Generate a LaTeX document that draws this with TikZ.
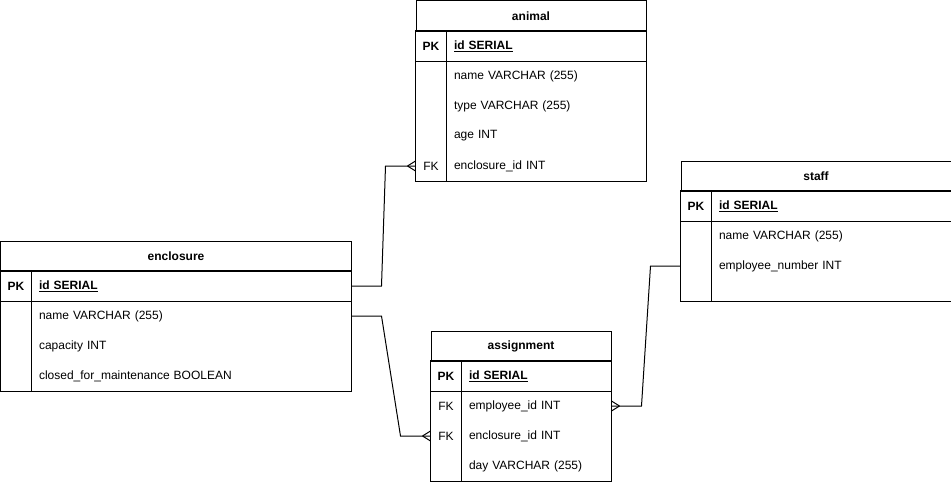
\documentclass[tikz,border=0pt]{standalone}
\usepackage{fontspec}
\setmainfont{Liberation Sans}
\newcommand{\pkfield}[1]{\underline{\textbf{#1}}}
\begin{document}
\begin{tikzpicture}[x=1pt,y=-1pt,line width=1pt,node font=\fontsize{12}{14}\selectfont,
    hdr/.style={draw,anchor=north west,minimum height=30pt,inner sep=0pt,font=\bfseries},
    keycell/.style={anchor=north west,minimum width=30pt,minimum height=30pt,inner sep=0pt},
    fieldcell/.style={anchor=north west,minimum height=30pt,inner xsep=8pt,inner ysep=0pt,align=left}]
    \useasboundingbox (-0.5,-0.5) rectangle (950.5,481.3);
    % animal
    \node[hdr,minimum width=230pt] (animal) at (415,0) {animal};
    \foreach \i/\k/\f in {1/\textbf{PK}/\pkfield{id SERIAL},2//name VARCHAR (255),3//type VARCHAR (255),4//age INT,5/FK/enclosure\_id INT} {
        \node[keycell] (animal-k\i) at (415,30*\i) {\k};
        \node[fieldcell,text width=184pt] (animal-f\i) at (445,30*\i) {\f};
    }
    \draw (animal-k1.south west) -- (animal-f1.south east);
    \draw (animal-k1.north west) rectangle (animal-f5.south east);
    \draw (animal-k1.north east) -- (animal-k5.south east);
    % enclosure
    \node[hdr,minimum width=350pt] (enclosure) at (0,240) {enclosure};
    \foreach \i/\k/\f in {1/\textbf{PK}/\pkfield{id SERIAL},2//name VARCHAR (255),3//capacity INT,4//closed\_for\_maintenance BOOLEAN} {
        \node[keycell] (enclosure-k\i) at (0,240+30*\i) {\k};
        \node[fieldcell,text width=304pt] (enclosure-f\i) at (30,240+30*\i) {\f};
    }
    \draw (enclosure-k1.south west) -- (enclosure-f1.south east);
    \draw (enclosure-k1.north west) rectangle (enclosure-f4.south east);
    \draw (enclosure-k1.north east) -- (enclosure-k4.south east);
    % assignment
    \node[hdr,minimum width=180pt] (assignment) at (430,330) {assignment};
    \foreach \i/\k/\f in {1/\textbf{PK}/\pkfield{id SERIAL},2/FK/employee\_id INT,3/FK/enclosure\_id INT,4//day VARCHAR (255)} {
        \node[keycell] (assignment-k\i) at (430,330+30*\i) {\k};
        \node[fieldcell,text width=134pt] (assignment-f\i) at (460,330+30*\i) {\f};
    }
    \draw (assignment-k1.south west) -- (assignment-f1.south east);
    \draw (assignment-k1.north west) rectangle (assignment-f4.south east);
    \draw (assignment-k1.north east) -- (assignment-k4.south east);
    % staff
    \node[hdr,minimum width=270pt] (staff) at (680,160) {staff};
    \foreach \i/\k/\f in {1/\textbf{PK}/\pkfield{id SERIAL},2//name VARCHAR (255),3//employee\_number INT} {
        \node[keycell] (staff-k\i) at (680,160+30*\i) {\k};
        \node[fieldcell,text width=224pt] (staff-f\i) at (710,160+30*\i) {\f};
    }
    \draw (staff-k1.south west) -- (staff-f1.south east);
    \draw (staff-k1.north west) rectangle ([yshift=-20pt]staff-f3.south east);
    \draw (staff-k1.north east) -- ([yshift=-20pt]staff-k3.south east);
    % relations
    \draw (enclosure-f1.east) -- ++(30,0) -- ([xshift=-30pt]animal-k5.west) -- (animal-k5.west);
    \draw (enclosure-f2.east) -- ++(30,0) -- ([xshift=-30pt]assignment-k3.west) -- (assignment-k3.west);
    \draw (staff-k3.west) -- ++(-30,0) -- ([xshift=30pt]assignment-f2.east) -- (assignment-f2.east);
    \foreach \n/\d in {animal-k5.west/-8,assignment-k3.west/-8,assignment-f2.east/8}
        \draw ([xshift=\d pt]\n) -- ([yshift=5pt]\n) ([xshift=\d pt]\n) -- ([yshift=-5pt]\n);
\end{tikzpicture}
\end{document}
